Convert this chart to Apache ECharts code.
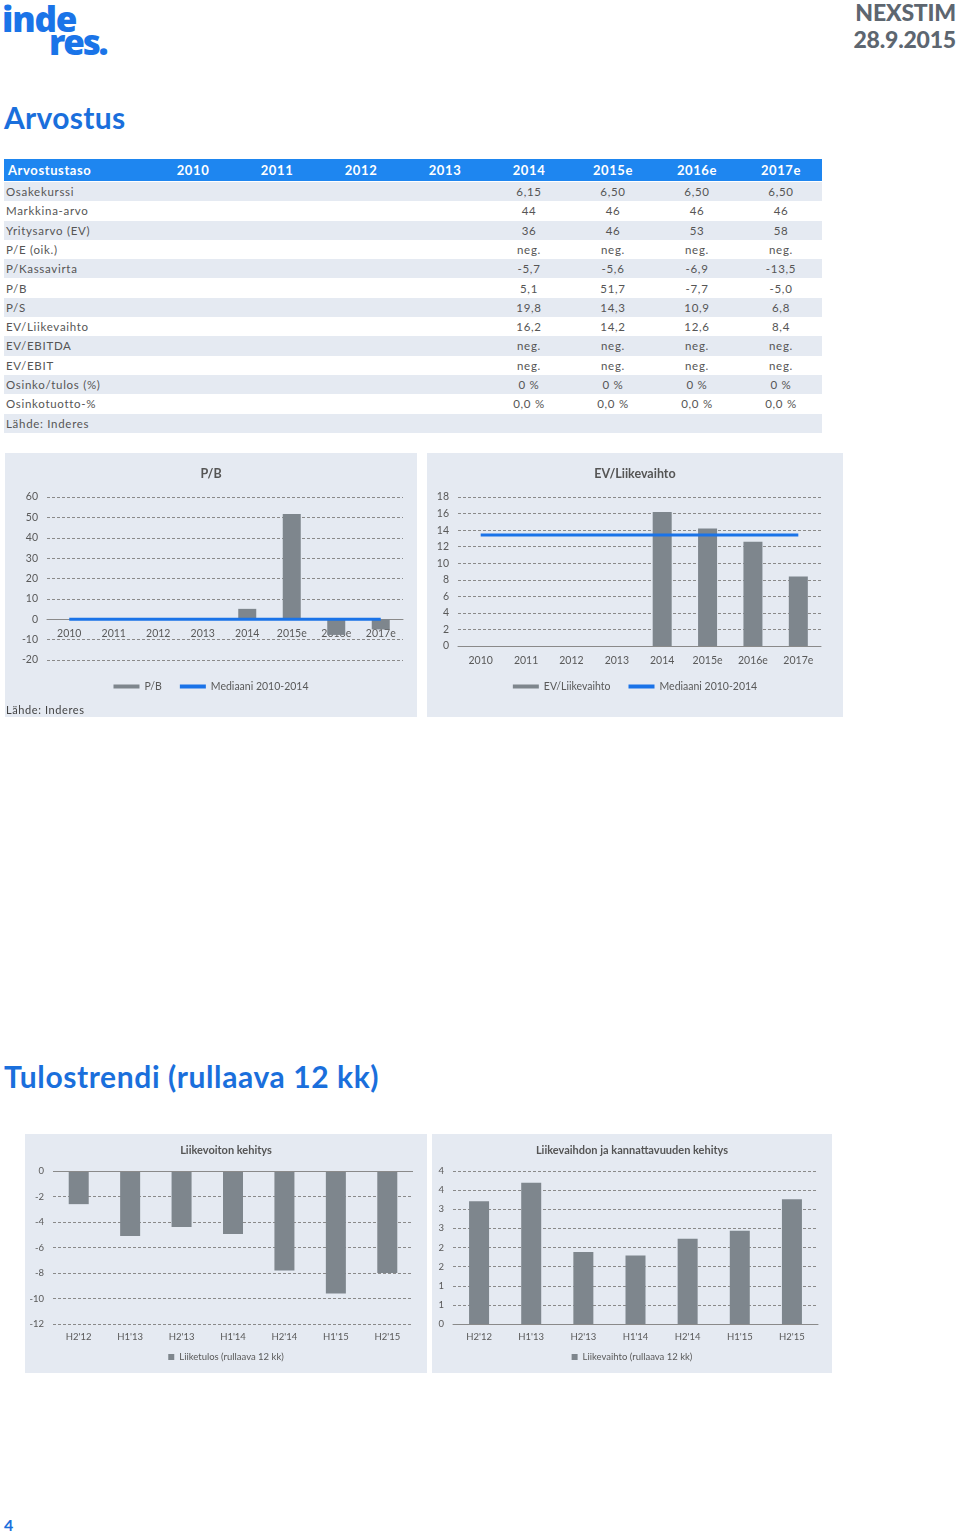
<!DOCTYPE html>
<html><head><meta charset="utf-8">
<script src="https://cdn.jsdelivr.net/npm/echarts@6/dist/echarts.min.js"></script>
<style>
body{margin:0;background:#fff;font-family:Lato,"Open Sans",sans-serif;}
#page{position:relative;width:960px;height:1533px;overflow:hidden;}
.abs{position:absolute;}
.panel{position:absolute;background:#e5eaf2;}
.row{position:absolute;left:4px;width:818px;height:19.3px;font-size:11.5px;color:#555;letter-spacing:0.7px;line-height:19.3px;}
.cell{position:absolute;top:0;width:84px;text-align:center;}
</style></head>
<body><div id="page">
<div class="abs" style="left:2px;top:-5px;font-size:35px;font-weight:900;color:#1a74e8;letter-spacing:-1.2px;font-family:'Open Sans',sans-serif;">inde</div>
<div class="abs" style="left:49px;top:18px;font-size:35px;font-weight:900;color:#1a74e8;letter-spacing:-2.2px;font-family:'Open Sans',sans-serif;">res.</div>
<div class="abs" style="right:4px;top:-1px;font-size:23px;font-weight:900;color:#5d6670;text-align:right;line-height:27px;letter-spacing:-0.2px;">NEXSTIM<br>28.9.2015</div>
<div class="abs" style="left:4px;top:99px;font-size:30px;font-weight:700;color:#1a6fdc;letter-spacing:0.3px;">Arvostus</div>
<div id="table"></div>
<div class="panel" style="left:5px;top:453px;width:412px;height:264px;"></div>
<div class="panel" style="left:427px;top:453px;width:416px;height:264px;"></div>
<div id="c1" class="abs" style="left:5px;top:453px;width:412px;height:264px;"></div>
<div id="c2" class="abs" style="left:427px;top:453px;width:416px;height:264px;"></div>
<div class="abs" style="left:6px;top:703px;font-size:11px;color:#444;letter-spacing:0.6px;">Lähde: Inderes</div>
<div class="abs" style="left:4px;top:1058px;font-size:30px;font-weight:700;color:#1a6fdc;letter-spacing:0.6px;">Tulostrendi (rullaava 12 kk)</div>
<div class="panel" style="left:25px;top:1134px;width:402px;height:239px;"></div>
<div class="panel" style="left:432px;top:1134px;width:400px;height:239px;"></div>
<div id="c3" class="abs" style="left:25px;top:1134px;width:402px;height:239px;"></div>
<div id="c4" class="abs" style="left:432px;top:1134px;width:400px;height:239px;"></div>
<div class="abs" style="left:4px;top:1515px;font-size:16px;font-weight:700;color:#1a6fdc;">4</div>
</div>
<script>
// ---- Data ----
const tableYears = ['2010','2011','2012','2013','2014','2015e','2016e','2017e'];
const tableLabels = ['Osakekurssi','Markkina-arvo','Yritysarvo (EV)','P/E (oik.)','P/Kassavirta','P/B','P/S','EV/Liikevaihto','EV/EBITDA','EV/EBIT','Osinko/tulos (%)','Osinkotuotto-%','Lähde: Inderes'];
const tableValues = [
  ['','','','','6,15','6,50','6,50','6,50'],
  ['','','','','44','46','46','46'],
  ['','','','','36','46','53','58'],
  ['','','','','neg.','neg.','neg.','neg.'],
  ['','','','','-5,7','-5,6','-6,9','-13,5'],
  ['','','','','5,1','51,7','-7,7','-5,0'],
  ['','','','','19,8','14,3','10,9','6,8'],
  ['','','','','16,2','14,2','12,6','8,4'],
  ['','','','','neg.','neg.','neg.','neg.'],
  ['','','','','neg.','neg.','neg.','neg.'],
  ['','','','','0 %','0 %','0 %','0 %'],
  ['','','','','0,0 %','0,0 %','0,0 %','0,0 %'],
  ['','','','','','','','']
];
const years = ['2010','2011','2012','2013','2014','2015e','2016e','2017e'];
const pbValues = [null, null, null, null, 5.1, 51.7, -7.7, -5.0];
const pbMedian = [0, 0, 0, 0, 0, 0, 0, 0];
const evSalesValues = [null, null, null, null, 16.2, 14.2, 12.6, 8.4];
const evSalesMedian = [13.4, 13.4, 13.4, 13.4, 13.4, 13.4, 13.4, 13.4];
const halfYears = ["H2'12", "H1'13", "H2'13", "H1'14", "H2'14", "H1'15", "H2'15"];
const ebitValues = [-2.6, -5.1, -4.4, -4.95, -7.8, -9.6, -8.0];
const revenueValues = [3.21, 3.69, 1.88, 1.79, 2.23, 2.44, 3.26];

// ---- Table ----
(function(){
  const t = document.getElementById('table');
  let h = '<div class="abs" style="left:4px;top:159px;width:818px;height:22px;background:#1e86f0;color:#fff;font-weight:700;font-size:13px;line-height:22px;letter-spacing:0.6px;">';
  h += '<div class="abs" style="left:4px;top:0;">Arvostustaso</div>';
  tableYears.forEach((y,i)=>{ h += '<div class="cell" style="left:'+(147+i*84)+'px;">'+y+'</div>'; });
  h += '</div>';
  tableLabels.forEach((lab,r)=>{
    const top = 182 + r*19.3;
    h += '<div class="row" style="top:'+top+'px;background:'+(r%2===0?'#e5eaf2':'#fff')+';">';
    h += '<div class="abs" style="left:2px;top:0;">'+lab+'</div>';
    tableValues[r].forEach((v,i)=>{ h += '<div class="cell" style="left:'+(147+i*84)+'px;">'+v+'</div>'; });
    h += '</div>';
  });
  t.innerHTML = h;
})();

const txt = '#595959';
const font = 'Lato, "Open Sans", sans-serif';
const barColor = '#7e868d';
const blue = '#1a73e8';
const dashed = {show:true, lineStyle:{color:'#8a8a8a', type:[3,2], width:1}};

function topChart(el, title, barName, bars, median, yMin, yMax, yInt, grid, barW){
  const c = echarts.init(document.getElementById(el), null, {renderer:'canvas'});
  const plotH = c.getHeight() - grid.top - grid.bottom;
  const zeroOffset = yMin < 0 ? -plotH * (0 - yMin) / (yMax - yMin) : 0;
  c.setOption({
    animation:false,
    textStyle:{fontFamily:font},
    title:{text:title, left:'center', top:9, textStyle:{fontSize:12.5, fontWeight:'bold', color:'#555', fontFamily:font}},
    legend:{bottom:20, left:'center', itemWidth:26, itemHeight:4, itemGap:18,
      textStyle:{color:txt, fontSize:10.5, fontFamily:font},
      data:[{name:barName, icon:'rect'},{name:'Mediaani 2010-2014', icon:'rect'}]},
    grid:grid,
    xAxis:{type:'category', data:years, axisTick:{show:false}, offset:zeroOffset,
      axisLine:{show:true, onZero:false, lineStyle:{color:'#8a8a8a'}},
      axisLabel:{color:txt, fontSize:10.5, margin:9, fontFamily:font}},
    yAxis:{type:'value', min:yMin, max:yMax, interval:yInt, splitLine:dashed,
      axisLabel:{color:txt, fontSize:10.5, margin:9, fontFamily:font}},
    series:[
      {name:barName, type:'bar', data:bars, barWidth:barW, itemStyle:{color:barColor}, z:3},
      {name:'Mediaani 2010-2014', type:'line', data:median, symbol:'none', lineStyle:{color:blue, width:3}, itemStyle:{color:blue}, z:4}
    ]
  });
}
topChart('c1','P/B','P/B',pbValues,pbMedian,-20,60,10,{left:42,right:14,top:44,bottom:57},18);
topChart('c2','EV/Liikevaihto','EV/Liikevaihto',evSalesValues,evSalesMedian,0,18,2,{left:31,right:22,top:44,bottom:71},19);

function bottomChart(el, title, name, vals, yMin, yMax, yInt, grid, fmt){
  const c = echarts.init(document.getElementById(el), null, {renderer:'canvas'});
  c.setOption({
    animation:false,
    textStyle:{fontFamily:font},
    title:{text:title, left:'center', top:6, textStyle:{fontSize:11, fontWeight:'bold', color:'#555', fontFamily:font}},
    legend:{bottom:6, left:'center', itemWidth:6, itemHeight:6, itemGap:4, textStyle:{color:txt, fontSize:9.5, fontFamily:font},
      data:[{name:name, icon:'rect'}]},
    grid:grid,
    xAxis:{type:'category', data:halfYears, axisTick:{show:false},
      axisLine:{show:yMin===0, onZero:false, lineStyle:{color:'#8a8a8a'}},
      axisLabel:{color:txt, fontSize:9.5, margin:8, fontFamily:font}},
    yAxis:{type:'value', min:yMin, max:yMax, interval:yInt, splitLine:dashed,
      axisLabel:{color:txt, fontSize:9.5, margin:9, fontFamily:font, formatter:fmt}},
    series:[{name:name, type:'bar', data:vals, barWidth:20, itemStyle:{color:barColor},
      markLine: yMin===0 ? undefined : {silent:true, symbol:'none', label:{show:false}, lineStyle:{color:'#8a8a8a', type:'solid', width:1}, data:[{yAxis:0}]}}]
  });
}
bottomChart('c3','Liikevoiton kehitys','Liiketulos (rullaava 12 kk)',ebitValues,-12,0,2,{left:28,right:14,top:37,bottom:49}, v=>String(v));
bottomChart('c4','Liikevaihdon ja kannattavuuden kehitys','Liikevaihto (rullaava 12 kk)',revenueValues,0,4,0.5,{left:21,right:14,top:37,bottom:49}, v=>v.toFixed(0));
</script>
</body></html>
